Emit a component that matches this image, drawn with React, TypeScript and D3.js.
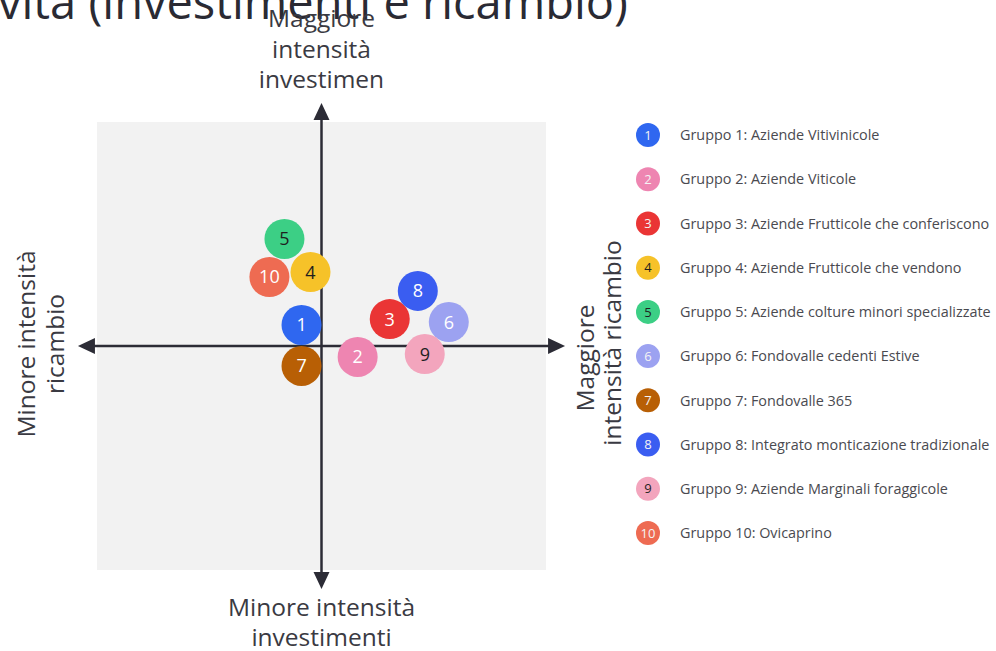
import React from "react";
import * as d3 from "d3";

const groupIds = ["1", "2", "3", "4", "5", "6", "7", "8", "9", "10"];
const groupNames = [
  "Gruppo 1: Aziende Vitivinicole",
  "Gruppo 2: Aziende Viticole",
  "Gruppo 3: Aziende Frutticole che conferiscono",
  "Gruppo 4: Aziende Frutticole che vendono",
  "Gruppo 5: Aziende colture minori specializzate",
  "Gruppo 6: Fondovalle cedenti Estive",
  "Gruppo 7: Fondovalle 365",
  "Gruppo 8: Integrato monticazione tradizionale",
  "Gruppo 9: Aziende Marginali foraggicole",
  "Gruppo 10: Ovicaprino",
];
// x = ricambio intensity, y = investment intensity (relative, -1..1)
const ricambio = [-0.089, 0.161, 0.304, -0.049, -0.165, 0.567, -0.089, 0.429, 0.46, -0.232];
const investimenti = [0.094, -0.049, 0.12, 0.33, 0.478, 0.107, -0.089, 0.246, -0.036, 0.308];
const colors = ["#2f67f0", "#ee85b1", "#ea3535", "#f6c229", "#3ccf85", "#9ca2f1", "#b85f05", "#3a5df1", "#f3a5bd", "#ee6b52"];
const labelColors = ["#fff", "#fff", "#fff", "#1f1f1f", "#1f1f1f", "#fff", "#fff", "#fff", "#1f1f1f", "#fff"];

const title = "vità (investimenti e ricambio)";
const topLabel = ["Maggiore", "intensità", "investimen"];
const bottomLabel = ["Minore intensità", "investimenti"];
const leftLabel = ["Minore intensità", "ricambio"];
const rightLabel = ["Maggiore", "intensità ricambio"];

const W = 996;
const H = 651;
const FONT = "'Open Sans', sans-serif";
const LS = 24.5;

export default function App() {
  const x = d3.scaleLinear().domain([-1, 1]).range([97, 546]);
  const y = d3.scaleLinear().domain([-1, 1]).range([570, 122]);
  const ext = 1.085;
  const x0 = x(0);
  const y0 = y(0);
  const axisColor = "#2c2c36";
  const ah = 8;
  const al = 17;
  const r = 20;
  const legendY = d3.scalePoint<number>().domain(d3.range(10)).range([135, 533]);

  return (
    <svg width={W} height={H} style={{ position: "absolute", left: 0, top: 0, background: "#fff" }}>
      <text x={-2} y={19} fontFamily={FONT} fontSize={47} fill="#2a2a33" fontWeight={500}>
        {title}
      </text>
      <rect x={x(-1)} y={y(1)} width={x(1) - x(-1)} height={y(-1) - y(1)} fill="#f2f2f2" />

      <line x1={x(-ext) + al - 2} x2={x(ext) - al + 2} y1={y0} y2={y0} stroke={axisColor} strokeWidth={2.5} />
      <line y1={y(ext) + al - 2} y2={y(-ext) - al + 2} x1={x0} x2={x0} stroke={axisColor} strokeWidth={2.5} />
      <path d={`M${x(-ext)},${y0} L${x(-ext) + al},${y0 - ah} L${x(-ext) + al},${y0 + ah} Z`} fill={axisColor} />
      <path d={`M${x(ext)},${y0} L${x(ext) - al},${y0 - ah} L${x(ext) - al},${y0 + ah} Z`} fill={axisColor} />
      <path d={`M${x0},${y(ext)} L${x0 - ah},${y(ext) + al} L${x0 + ah},${y(ext) + al} Z`} fill={axisColor} />
      <path d={`M${x0},${y(-ext)} L${x0 - ah},${y(-ext) - al} L${x0 + ah},${y(-ext) - al} Z`} fill={axisColor} />

      {topLabel.map((t, i) => (
        <text key={t} x={x0} y={27 + i * 30.5} textAnchor="middle" fontFamily={FONT} fontSize={LS} fill="#3a3a42">
          {t}
        </text>
      ))}
      {bottomLabel.map((t, i) => (
        <text key={t} x={x0} y={616 + i * 30} textAnchor="middle" fontFamily={FONT} fontSize={LS} fill="#3a3a42">
          {t}
        </text>
      ))}
      {leftLabel.map((t, i) => (
        <text key={t} transform={`translate(${35 + i * 29},344) rotate(-90)`} textAnchor="middle" fontFamily={FONT} fontSize={LS} fill="#3a3a42">
          {t}
        </text>
      ))}
      {rightLabel.map((t, i) => (
        <text key={t} transform={`translate(${594 + i * 27},${i === 0 ? 358 : 343}) rotate(-90)`} textAnchor="middle" fontFamily={FONT} fontSize={LS} fill="#3a3a42">
          {t}
        </text>
      ))}

      {groupIds.map((id, i) => (
        <g key={id} transform={`translate(${x(ricambio[i])},${y(investimenti[i])})`}>
          <circle r={r} fill={colors[i]} />
          <text textAnchor="middle" dy="0.36em" fontFamily={FONT} fontSize={18} fontWeight={500} fill={labelColors[i]}>
            {id}
          </text>
        </g>
      ))}

      {groupIds.map((id, i) => (
        <g key={"l" + id} transform={`translate(648,${legendY(i)})`}>
          <circle r={12} fill={colors[i]} />
          <text textAnchor="middle" dy="0.36em" fontFamily={FONT} fontSize={13} fill={labelColors[i] === "#fff" ? "#f4f4f4" : "#1f1f1f"}>
            {id}
          </text>
          <text x={32} dy="0.36em" fontFamily={FONT} fontSize={14.4} fill="#4a4a50">
            {groupNames[i]}
          </text>
        </g>
      ))}
    </svg>
  );
}
